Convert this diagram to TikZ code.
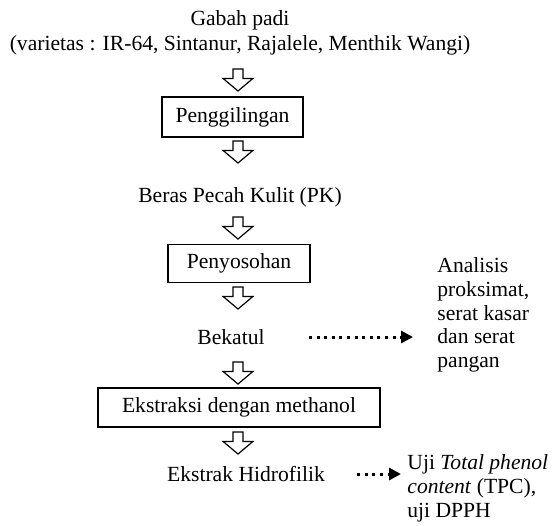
\documentclass[tikz,border=0pt]{standalone}
\usepackage{fontspec}
\setmainfont{Liberation Serif}
\usetikzlibrary{arrows.meta,positioning,calc}
\tikzset{
    processbox/.style={draw, line width=0.6pt, align=center, font=\fontsize{10.8pt}{12.5pt}\selectfont, inner sep=0pt},
    processtext/.style={align=center, font=\fontsize{10.8pt}{12.5pt}\selectfont, inner sep=0pt},
    processnote/.style={align=left, anchor=west, font=\fontsize{10.8pt}{11.9pt}\selectfont, inner sep=0pt},
    processarrow/.pic={\draw[line width=0.6pt, line join=miter] (-2.5pt,5.5pt) -- (2.5pt,5.5pt) -- (2.5pt,0.8pt) -- (7.5pt,0.8pt) -- (0pt,-5.5pt) -- (-7.5pt,0.8pt) -- (-2.5pt,0.8pt) -- cycle;},
    processdots/.style={-{Triangle[length=6pt, width=6pt]}, line width=1.5pt, dash pattern=on 1.5pt off 2.3pt}
}

\begin{document}
\begin{tikzpicture}[x=0.5pt, y=-0.5pt]
    \useasboundingbox (0,0) rectangle (560,525);
    \node[processtext] (gabah) at (240,33) {Gabah padi\\(varietas : IR-64, Sintanur, Rajalele, Menthik Wangi)};
    \pic (a1) at (238,80) {processarrow};
    \node[processbox, minimum width=70.5pt, minimum height=20pt] (giling) at (232.5,117) {Penggilingan};
    \pic (a2) at (238,152) {processarrow};
    \node[processtext] (beras) at (240,197) {Beras Pecah Kulit (PK)};
    \pic (a3) at (238,228) {processarrow};
    \node[processbox, minimum width=71pt, minimum height=19pt] (sosoh) at (239,263.5) {Penyosohan};
    \pic (a4) at (238,298) {processarrow};
    \node[processtext] (bekatul) at (231,337) {Bekatul};
    \pic (a5) at (238,373) {processarrow};
    \node[processbox, minimum width=141pt, minimum height=19.5pt] (ekstraksi) at (239,407.5) {Ekstraksi dengan methanol};
    \pic (a6) at (238,443) {processarrow};
    \node[processtext] (hidro) at (246,474) {Ekstrak Hidrofilik};
    % analisis lanjutan
    \node[processnote] (analisis) at (437,315) {Analisis\\proksimat,\\serat kasar\\dan serat\\pangan};
    \node[processnote] (uji) at (407,488) {Uji \textit{Total phenol}\\\textit{content} (TPC),\\uji DPPH};
    \draw[processdots, shorten <=22pt, shorten >=12pt] (bekatul.east) -- (bekatul.east -| analisis.west);
    \draw[processdots, shorten <=16pt, shorten >=3pt] (hidro.east) -- (hidro.east -| uji.west);
\end{tikzpicture}
\end{document}
